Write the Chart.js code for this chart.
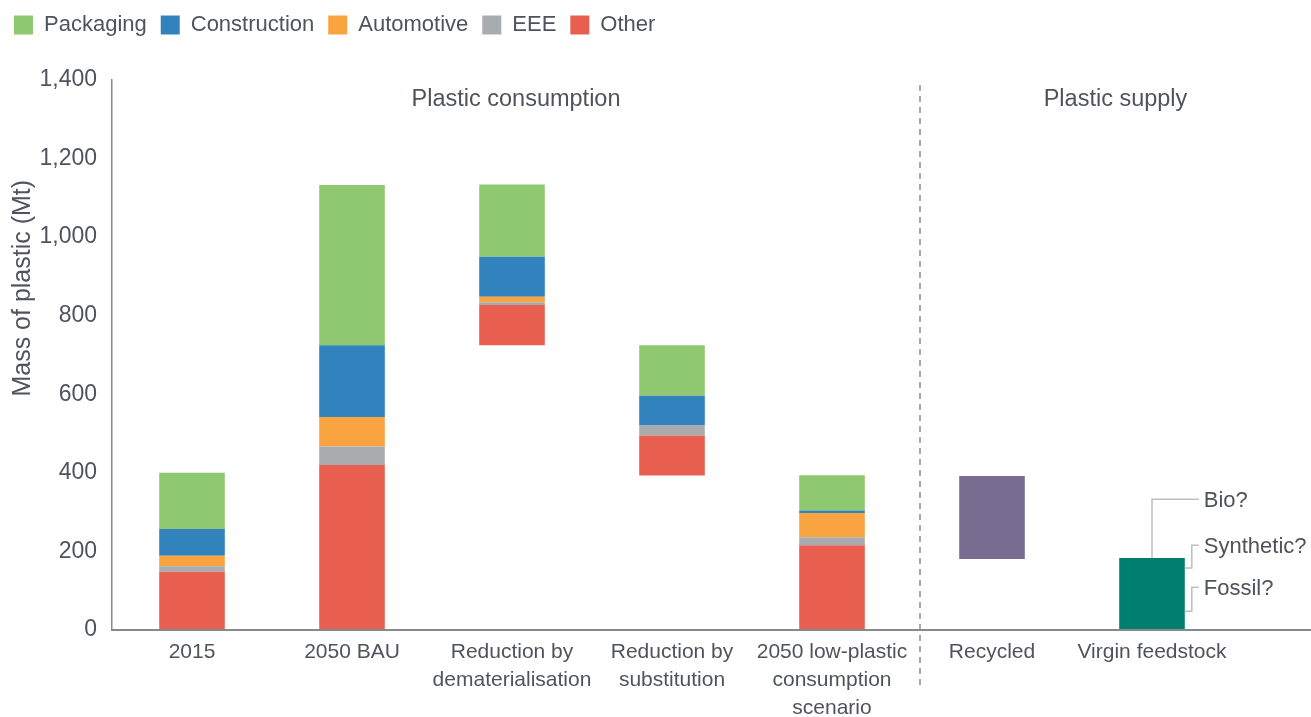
<!DOCTYPE html>
<html>
<head>
<meta charset="utf-8">
<script src="https://cdn.jsdelivr.net/npm/chart.js@4.4.1/dist/chart.umd.min.js"></script>
<style>
  html, body { margin: 0; padding: 0; background: #ffffff; }
  #wrap { width: 1311px; height: 717px; position: relative; }
</style>
</head>
<body>
<div id="wrap"><canvas id="c"></canvas></div>
<script>
// ---- data ----
const categories = [
  ["2015"],
  ["2050 BAU"],
  ["Reduction by", "dematerialisation"],
  ["Reduction by", "substitution"],
  ["2050 low-plastic", "consumption", "scenario"],
  ["Recycled"],
  ["Virgin feedstock"]
];
const baseOffset   = [0, 0, 725, 393, 0, 181, 0];
const other        = [148, 420, 102, 102, 216, null, null];
const eee          = [14, 47, 7, 27, 20, null, null];
const automotive   = [27, 75, 14, 0, 62, null, null];
const construction = [68, 183, 102, 74, 6, null, null];
const packaging    = [143, 408, 184, 129, 90, null, null];
const recycled     = [null, null, null, null, null, 211, null];
const virgin       = [null, null, null, null, null, null, 183];
const yTickValues  = [0, 200, 400, 600, 800, 1000, 1200, 1400];
const sectionTitles = ["Plastic consumption", "Plastic supply"];
const feedstockNotes = ["Bio?", "Synthetic?", "Fossil?"];
const yTitle = "Mass of plastic (Mt)";

const FONT = "'Liberation Sans', Arial, sans-serif";
const TEXT = "#4f535c";
const AXIS = "#85888d";
const sectorNames = ["Other", "EEE", "Automotive", "Construction", "Packaging"];

const decor = {
  id: "decor",
  beforeInit(chart) {
    const lg = chart.legend;
    if (lg) {
      const f = lg.fit;
      lg.fit = function () { f.call(this); this.height = 80; };
    }
  },
  afterDraw(chart) {
    const ctx = chart.ctx;
    const xs = chart.scales.x, ys = chart.scales.y;
    const area = chart.chartArea;
    const y0 = ys.getPixelForValue(0);
    ctx.save();
    // extend x axis line to the right edge
    ctx.strokeStyle = AXIS;
    ctx.lineWidth = 2;
    ctx.beginPath();
    ctx.moveTo(area.left, y0);
    ctx.lineTo(chart.width, y0);
    ctx.stroke();

    // dashed divider between consumption and supply
    const step = xs.getPixelForValue(5) - xs.getPixelForValue(4);
    const divX = xs.getPixelForValue(4) + step * 0.55;
    ctx.setLineDash([6, 5]);
    ctx.lineWidth = 1.5;
    ctx.strokeStyle = "#8a8d92";
    ctx.beginPath();
    ctx.moveTo(divX, area.top + 5);
    ctx.lineTo(divX, 690);
    ctx.stroke();
    ctx.setLineDash([]);

    // section titles
    ctx.fillStyle = TEXT;
    ctx.font = "23.5px " + FONT;
    ctx.textAlign = "center";
    ctx.textBaseline = "middle";
    const ty = ys.getPixelForValue(1350);
    ctx.fillText(sectionTitles[0], (area.left + divX) / 2, ty);
    ctx.fillText(sectionTitles[1], (divX + chart.width) / 2, ty);

    // y axis title
    ctx.save();
    ctx.translate(23, ys.getPixelForValue(870));
    ctx.rotate(-Math.PI / 2);
    ctx.font = "25px " + FONT;
    ctx.fillText(yTitle, 0, 0);
    ctx.restore();

    // feedstock notes with brackets
    const vMeta = chart.getDatasetMeta(chart.data.datasets.length - 1);
    const bar = vMeta.data[6];
    if (bar) {
      const cx = bar.x, right = bar.x + bar.width / 2;
      const topY = bar.y;
      const bx = right + 7, tx = right + 19;
      ctx.strokeStyle = "#bcbec1";
      ctx.lineWidth = 1.5;
      // Bio
      const bioY = ys.getPixelForValue(333);
      ctx.beginPath();
      ctx.moveTo(cx, topY);
      ctx.lineTo(cx, bioY);
      ctx.lineTo(bx + 7, bioY);
      ctx.stroke();
      // Synthetic
      const s1 = ys.getPixelForValue(216), s2 = ys.getPixelForValue(158);
      ctx.beginPath();
      ctx.moveTo(bx + 7, s1); ctx.lineTo(bx, s1); ctx.lineTo(bx, s2); ctx.lineTo(right, s2);
      ctx.stroke();
      // Fossil
      const f1 = ys.getPixelForValue(109), f2 = ys.getPixelForValue(48);
      ctx.beginPath();
      ctx.moveTo(bx + 7, f1); ctx.lineTo(bx, f1); ctx.lineTo(bx, f2); ctx.lineTo(right, f2);
      ctx.stroke();

      ctx.fillStyle = TEXT;
      ctx.font = "22px " + FONT;
      ctx.textAlign = "left";
      ctx.textBaseline = "middle";
      ctx.fillText(feedstockNotes[0], tx, bioY + 2);
      ctx.fillText(feedstockNotes[1], tx, s1 + 2);
      ctx.fillText(feedstockNotes[2], tx, f1 + 2);
    }
    ctx.restore();
  }
};

const barCommon = { barPercentage: 1.0, categoryPercentage: 0.41, borderWidth: 0, stack: "s" };

new Chart(document.getElementById("c"), {
  type: "bar",
  data: {
    labels: categories,
    datasets: [
      Object.assign({ label: "base", data: baseOffset, backgroundColor: "rgba(0,0,0,0)" }, barCommon),
      Object.assign({ label: "Other", data: other, backgroundColor: "#e85f50" }, barCommon),
      Object.assign({ label: "EEE", data: eee, backgroundColor: "#a9acaf" }, barCommon),
      Object.assign({ label: "Automotive", data: automotive, backgroundColor: "#f9a341" }, barCommon),
      Object.assign({ label: "Construction", data: construction, backgroundColor: "#3282be" }, barCommon),
      Object.assign({ label: "Packaging", data: packaging, backgroundColor: "#8ec86f" }, barCommon),
      Object.assign({ label: "Recycled", data: recycled, backgroundColor: "#786c90" }, barCommon),
      Object.assign({ label: "Virgin feedstock", data: virgin, backgroundColor: "#007f6e" }, barCommon)
    ]
  },
  options: {
    responsive: true,
    maintainAspectRatio: false,
    animation: false,
    layout: { padding: { left: 0, right: 79, top: 0, bottom: 0 } },
    plugins: {
      legend: {
        position: "top",
        align: "start",
        reverse: true,
        labels: {
          boxWidth: 19,
          boxHeight: 19,
          padding: 14,
          color: TEXT,
          font: { family: FONT, size: 22 },
          filter: (item) => sectorNames.includes(item.text)
        }
      },
      tooltip: { enabled: false }
    },
    scales: {
      x: {
        stacked: true,
        grid: { display: false, drawTicks: false },
        border: { display: true, color: AXIS, width: 2 },
        ticks: {
          color: TEXT,
          font: { family: FONT, size: 21, lineHeight: 1.33 },
          padding: 8,
          maxRotation: 0,
          minRotation: 0,
          autoSkip: false
        },
        afterFit: (s) => { s.height = 87; }
      },
      y: {
        stacked: true,
        min: 0,
        max: 1400,
        grid: { display: false, drawTicks: false },
        border: { display: true, color: AXIS, width: 1.5 },
        afterBuildTicks: (s) => { s.ticks = yTickValues.map(v => ({ value: v })); },
        ticks: {
          color: TEXT,
          font: { family: FONT, size: 23 },
          padding: 15,
          callback: (v) => Number(v).toLocaleString("en-US")
        },
        afterFit: (s) => { s.width = 112; }
      }
    }
  },
  plugins: [decor]
});
</script>
</body>
</html>
